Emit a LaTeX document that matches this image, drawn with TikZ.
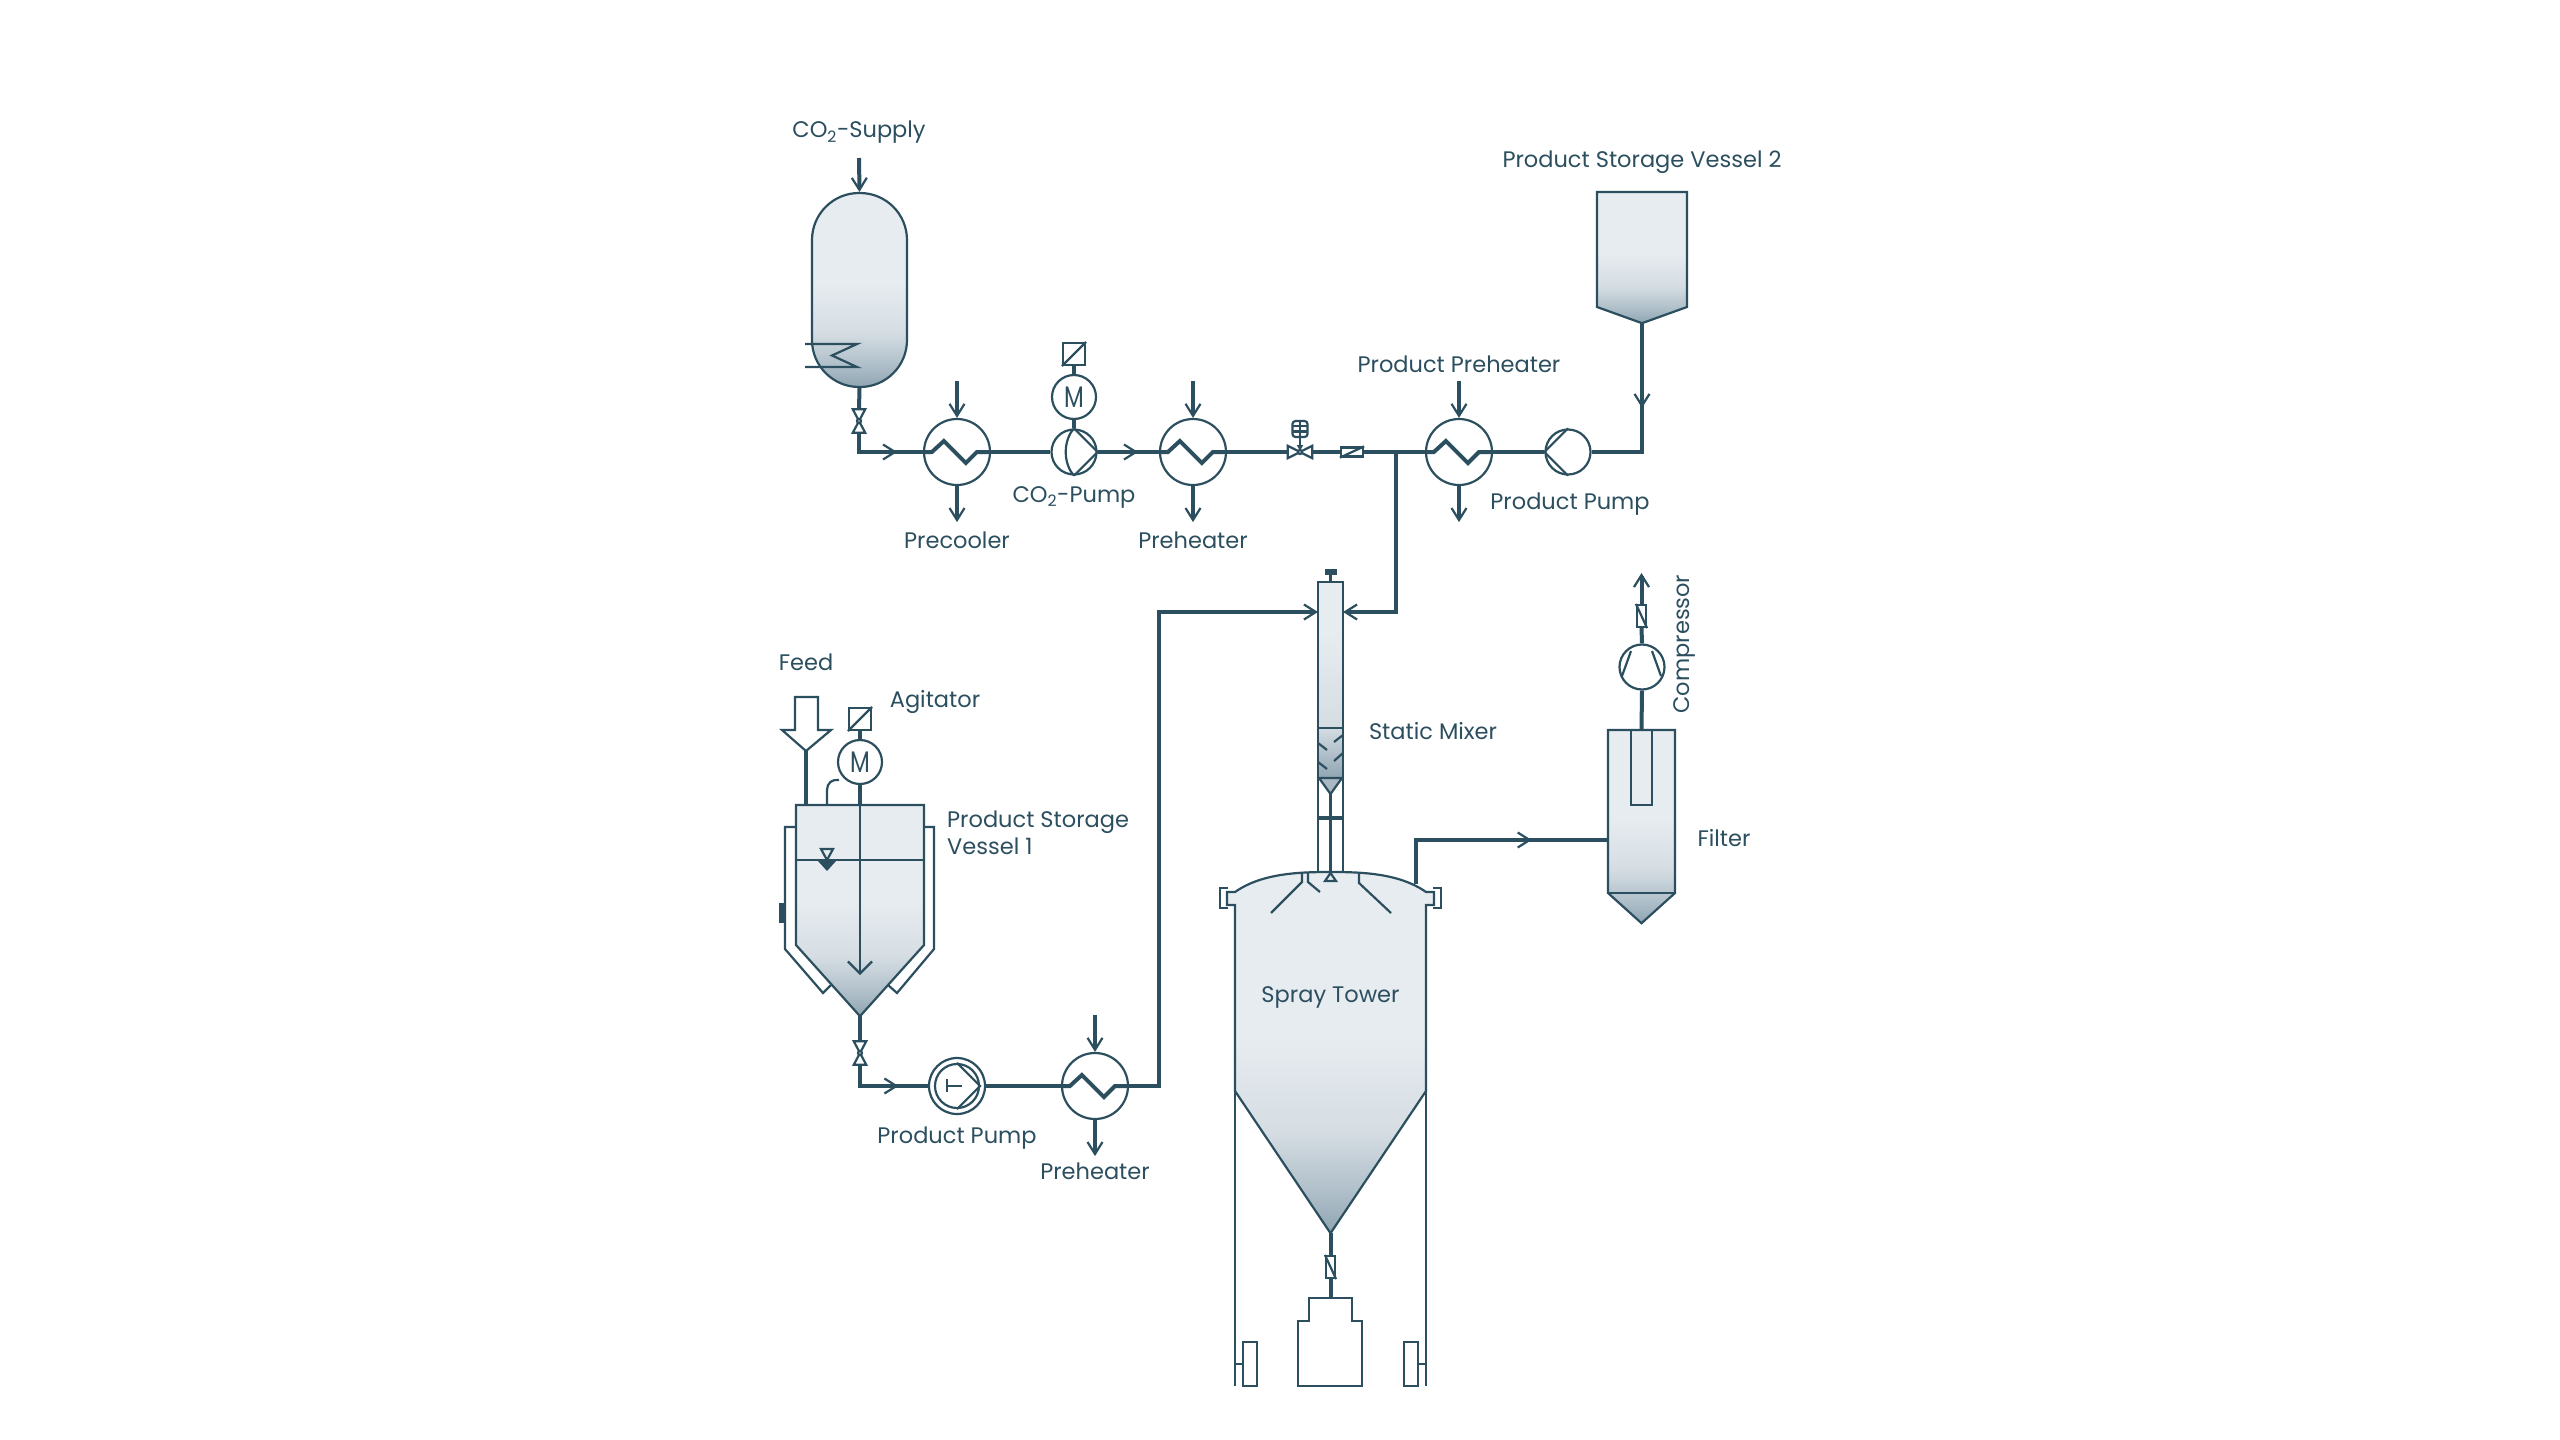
\documentclass[tikz,border=0pt]{standalone}
\usepackage{fontspec}
\setmainfont{Poppins}
\usepackage{tikz}
\usetikzlibrary{positioning}
\usetikzlibrary{calc}
\usetikzlibrary{arrows.meta}
\usetikzlibrary{decorations.markings}
\definecolor{Line}{HTML}{2C4F5F}
\definecolor{Light}{HTML}{E7ECF0}
\definecolor{PaleTone}{HTML}{D5DDE3}
\definecolor{MidTone}{HTML}{AEBEC8}
\definecolor{DarkTone}{HTML}{8FA5B2}
\definecolor{ConeTone}{HTML}{A9B8C2}
\pgfdeclareverticalshading{hullshade}{100bp}{color(0bp)=(DarkTone); color(25bp)=(DarkTone); color(30.5bp)=(MidTone); color(39bp)=(PaleTone); color(52bp)=(Light); color(100bp)=(Light)}
\pgfdeclareverticalshading{mixshade}{100bp}{color(0bp)=(DarkTone); color(25bp)=(DarkTone); color(38bp)=(PaleTone); color(62bp)=(Light); color(100bp)=(Light)}
\tikzset{
  equip/.style={draw=Line, line width=2.2pt, line join=miter},
  pipe/.style={draw=Line, line width=4pt, line join=miter},
  tank/.style={equip, shading=hullshade},
  hull/.style={rectangle, inner sep=0pt, minimum width=#1},
  round/.style={circle, equip, inner sep=0pt, minimum size=#1, fill=white},
  hx/.style={round=66pt},
  boxed/.style={rectangle, equip, inner sep=0pt, fill=white},
  lbl/.style={inner sep=0pt, text=Line, yshift=-2.5pt, font=\fontsize{22.5}{27}\selectfont},
  flowat/.style={postaction={decorate, decoration={markings, mark=at position #1 with {\arrow{>}}}}},
}
\begin{document}
\begin{tikzpicture}[x=1pt, y=-1pt, >={Straight Barb[length=12pt,width=15pt,line width=2.2pt]}]
\fill[white] (0,0) rectangle (2560,1440);
\useasboundingbox (0,0) rectangle (2560,1440);

% vessels
\node[rectangle, equip, inner sep=0pt, minimum width=95pt, minimum height=194pt, rounded corners=47pt, shading=hullshade] (co2v) at (859.5,290) {};
\node[hull=90pt, minimum height=131pt] (vs2) at (1642,257.5) {};
\draw[tank] (1597,192) -- (1687,192) -- (1687,307) -- (vs2.south) -- (1597,307) -- cycle;
\node[hull=128pt, minimum height=211pt] (fvessel) at (860,910.5) {};
\draw[tank] (796,805) -- (924,805) -- (924,945) -- (fvessel.south) -- (796,945) -- cycle;
\node[hull=67pt, minimum height=193pt] (filter) at (1641.5,826.5) {};
\draw[tank] (1608,730) -- (1675,730) -- (1675,893) -- (filter.south) -- (1608,893) -- cycle;
\draw[equip] (1608,893) -- (1675,893);
\draw[equip] (1631,730) -- (1631,805) -- (1652,805) -- (1652,730);
\node[hull=191pt, minimum height=361pt] (tower) at (1330.5,1052.5) {};
\draw[tank] (1235,892) .. controls (1262,873) and (1300,872) .. (1330.5,872) .. controls (1361,872) and (1399,873) .. (1426,892)
  -- (1434,892) -- (1434,905) -- (1426,905) -- (1426,1091) -- (tower.south) -- (1235,1091) -- (1235,905) -- (1227,905) -- (1227,892) -- cycle;
\node[rectangle, equip, inner sep=0pt, minimum width=25pt, minimum height=196pt, shading=mixshade] (mixer) at (1330.5,680) {};

% CO2 vessel coil
\draw[equip] (805,344) -- (857,344) -- (832,355.5) -- (857,367) -- (805,367);

% heat exchangers
\foreach \n/\x/\y in {precool/957/452, preheatA/1193/452, prodheat/1459/452, preheatB/1095/1086} {
  \node[hx] (\n) at (\x,\y) {};
  \draw[pipe] (\n.west) -- ++(9,0) -- ++(12,-11) -- ++(22,22) -- ++(11,-11) -- (\n.east);
  \draw[pipe,->] ($(\n.north)+(0,-37)$) -- (\n.north);
  \draw[pipe,->] (\n.south) -- ++(0,36);
}

% motors
\foreach \n/\x/\y in {cmotor/1074/397, amotor/860/762} {
  \node[round=44pt, font=\fontsize{27}{27}\selectfont, text=Line] (\n) at (\x,\y) {\scalebox{.85}[1.1]{M}};
  \node[boxed, minimum size=22pt] (\n box) at (\x,\y-43) {};
  \draw[equip] (\n box.south west) -- (\n box.north east);
  \draw[pipe] (\n box.south) -- (\n.north);
}

% pumps
\node[round=45pt] (cpump) at (1074,452) {};
\draw[equip] (cpump.north) -- (cpump.east) -- (cpump.south);
\draw[equip] (cpump.north) .. controls +(-11,12) and +(-11,-12) .. (cpump.south);
\node[round=45pt] (ppump) at (1568,452) {};
\draw[equip] (ppump.north) -- (ppump.west) -- (ppump.south);
\node[round=56pt] (fpout) at (957,1086) {};
\node[round=44pt] (fpump) at (957,1086) {};
\draw[equip] (fpump.north) -- (fpump.east) -- (fpump.south);
\draw[equip] (947,1079) -- (947,1092);
\draw[equip] (947,1086) -- (962,1086);
\node[round=45pt] (comp) at (1642,667) {};
\draw[equip] (1631,651) -- (1622,676);
\draw[equip] (1652,651) -- (1661,676);

% valves
\foreach \n/\x/\y in {cvalve/859/421, fvalve/860/1053} {
  \node[hull=12pt, minimum height=23pt] (\n) at (\x,\y) {};
  \draw[pipe] (\n.north) -- (\n.south);
  \draw[equip, fill=white] (\n.north west) -- (\n.north east) -- (\n.south west) -- (\n.south east) -- cycle;
  \draw[equip, fill=white] (\n) circle (2pt);
}
\node[hull=24pt, minimum height=12pt] (regv) at (1300,452) {};
\draw[equip, fill=white] (regv.north west) -- (regv.south west) -- (regv.north east) -- (regv.south east) -- cycle;
\node[boxed, minimum width=15pt, minimum height=16pt, rounded corners=3pt] (act) at (1300,429) {};
\draw[equip] (1292.5,426) -- (1307.5,426);
\draw[equip] (1292.5,431.5) -- (1307.5,431.5);
\draw[equip] (act.north) -- (act.south);
\draw[equip, -{Latex[length=7pt,width=7pt]}] (act.south) -- (regv.center);
\draw[equip, fill=white] (regv) circle (2pt);

% check valves
\node[boxed, minimum width=22pt, minimum height=9pt] (hchk) at (1352,452) {};
\draw[equip] (hchk.south west) -- (hchk.north east);
\foreach \n/\x/\y in {tchk/1330.5/1267, fchk/1641.5/616} {
  \node[boxed, minimum width=9pt, minimum height=22pt] (\n) at (\x,\y) {};
  \draw[equip] (\n.north west) -- (\n.south east);
}

% CO2 line
\coordinate (co2in) at (859,158);
\draw[pipe,->] (co2in) -- (co2v.north);
\draw[pipe] (co2v.south) -- (cvalve.north);
\draw[pipe, flowat=.69] (cvalve.south) |- (precool.west);
\draw[pipe] (precool.east) -- (cpump.west);
\draw[pipe] (cmotor.south) -- (cpump.north);
\draw[pipe, flowat=.66] (cpump.east) -- (preheatA.west);
\draw[pipe] (preheatA.east) -- (regv.west);
\draw[pipe] (regv.east) -- (hchk.west);
\draw[pipe] (hchk.east) -- (prodheat.west);
\draw[pipe] (prodheat.east) -- (ppump.west);
\draw[pipe, flowat=.473] (vs2.south) |- (ppump.east);

% lines into mixer
\coordinate (jn) at (1396,452);
\coordinate (mixr) at (1343,612);
\coordinate (mixl) at (1318,612);
\coordinate (bendl) at (1159,612);
\draw[pipe,->] (jn) |- (mixr);
\draw[pipe] (fvessel.south) -- (fvalve.north);
\draw[pipe, flowat=.67] (fvalve.south) |- (fpout.west);
\draw[pipe] (fpout.east) -- (preheatB.west);
\draw[pipe,->] (preheatB.east) -| (bendl) -- (mixl);

% mixer details
\draw[equip] (1330.5,582) -- (1330.5,574);
\node[rectangle, fill=Line, inner sep=0pt, minimum width=12pt, minimum height=6pt] (knob) at (1330.5,572) {};
\draw[equip] (1318,728) -- (1343,728);
\draw[equip] (1318,743) -- (1327,750);
\draw[equip] (1318,762) -- (1327,769);
\draw[equip] (1343,735) -- (1334,742);
\draw[equip] (1343,753) -- (1334,761);
\draw[equip, fill=ConeTone] (1319,778) -- (1330.5,794) -- (1342,778) -- cycle;
\draw[equip] (1318,778) -- (1318,872);
\draw[equip] (1343,778) -- (1343,872);
\draw[equip] (1330.5,794) -- (1330.5,872);
\draw[pipe] (1318,818) -- (1343,818);

% tower details
\draw[equip] (1228,888) -- (1220,888) -- (1220,908) -- (1228,908);
\draw[equip] (1433,888) -- (1441,888) -- (1441,908) -- (1433,908);
\draw[equip] (1302,873) -- (1302,882) -- (1271,913);
\draw[equip] (1308,873) -- (1308,882) -- (1320,892);
\draw[equip] (1359,873) -- (1359,883) -- (1391,913);
\draw[equip] (1330.5,873) -- (1325,881) -- (1336,881) -- cycle;
\draw[equip] (1235,1091) -- (1235,1386);
\draw[equip] (1426,1091) -- (1426,1386);
\draw[equip] (1309,1298) -- (1352,1298) -- (1352,1321) -- (1362,1321) -- (1362,1386) -- (1298,1386) -- (1298,1321) -- (1309,1321) -- cycle;
\coordinate (recv) at (1330.5,1298);
\draw[pipe] (tower.south) -- (tchk.north);
\draw[pipe] (tchk.south) -- (recv);
\node[boxed, minimum width=14pt, minimum height=44pt] (footl) at (1250,1364) {};
\node[boxed, minimum width=14pt, minimum height=44pt] (footr) at (1411,1364) {};
\draw[equip] (1235,1364) -- (footl.west);
\draw[equip] (footr.east) -- (1426,1364);

% filter line
\coordinate (towerout) at (1416,884);
\coordinate (filtin) at (1608,840);
\draw[pipe, flowat=.677] (towerout) |- (filtin);
\draw[pipe] (filter.north) -- (comp.south);
\draw[pipe] (comp.north) -- (fchk.south);
\coordinate (compout) at (1641.5,573);
\draw[pipe,->] (fchk.north) -- (compout);

% feed vessel details
\draw[equip] (796,827) -- (785,827) -- (785,949) -- (823,993) -- (831,985);
\draw[equip] (924,827) -- (934,827) -- (934,949) -- (897,993) -- (888,985);
\node[rectangle, fill=Line, inner sep=0pt, minimum width=6pt, minimum height=20pt] (vport) at (782,913) {};
\draw[equip] (796,860) -- (924,860);
\draw[equip] (821,849) -- (833,849) -- (827,860) -- cycle;
\fill[Line] (817,860) -- (837,860) -- (827,871) -- cycle;
\draw[equip] (827,805) -- (827,790) .. controls (827,783) and (832,779) .. (839,780);
\draw[equip] (795,697) -- (818,697) -- (818,730) -- (831,730) -- (806,751) -- (782,730) -- (795,730) -- cycle;
\coordinate (feedtip) at (806,751);
\coordinate (feedin) at (806,805);
\draw[pipe] (feedtip) -- (feedin);
\draw[pipe] (amotor.south) -- (fvessel.north);
\draw[equip, -{Straight Barb[length=12pt,width=24pt,line width=2.2pt]}] (fvessel.north) -- (860,975);

% labels
\node[lbl] (l1) at (859,130) {CO\textsubscript{2}-Supply};
\node[lbl] (l2) at (1074,495) {CO\textsubscript{2}-Pump};
\node[lbl] (l3) at (957,538) {Precooler};
\node[lbl] (l4) at (1193,538) {Preheater};
\node[lbl] (l5) at (1642,160) {Product Storage Vessel 2};
\node[lbl] (l6) at (1459,362) {Product Preheater};
\node[lbl] (l7) at (1570,502) {Product Pump};
\node[lbl] (l8) at (806,660) {Feed};
\node[lbl] (l9) at (935,699) {Agitator};
\node[lbl, align=left, anchor=west] (l10) at (947,830) {Product Storage\\Vessel 1};
\node[lbl] (l11) at (957,1136) {Product Pump};
\node[lbl] (l12) at (1095,1169) {Preheater};
\node[lbl] (l13) at (1433,729) {Static Mixer};
\node[lbl] (l14) at (1330.5,995) {Spray Tower};
\node[lbl] (l15) at (1724,836) {Filter};
\node[lbl, rotate=90] (l16) at (1684.5,641.5) {Compressor};
\end{tikzpicture}
\end{document}
